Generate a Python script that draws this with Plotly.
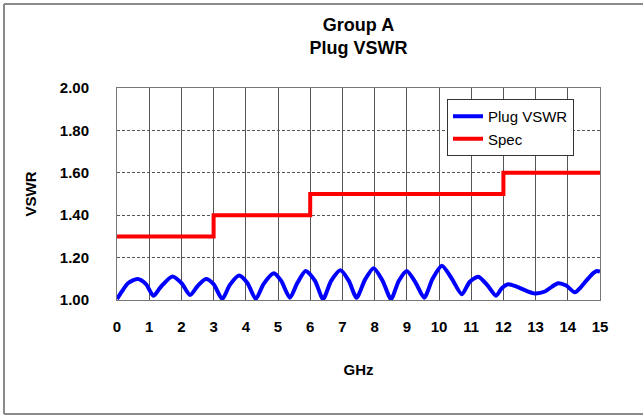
import plotly.graph_objects as go

freq_ghz = [0.00, 0.15, 0.35, 0.64, 0.90, 1.13, 1.35, 1.72, 2.00, 2.27, 2.50, 2.76, 3.00, 3.27,
            3.50, 3.79, 4.05, 4.31, 4.55, 4.87, 5.10, 5.37, 5.60, 5.86, 6.15, 6.40, 6.65, 6.94,
            7.20, 7.44, 7.70, 7.97, 8.25, 8.51, 8.75, 9.00, 9.28, 9.54, 9.80, 10.09, 10.40,
            10.71, 10.95, 11.22, 11.50, 11.77, 11.95, 12.15, 12.41, 12.72, 12.98, 13.29, 13.50,
            13.70, 13.95, 14.22, 14.40, 14.59, 14.80, 14.90, 15.00]
plug_vswr = [1.005, 1.04, 1.08, 1.099, 1.075, 1.02, 1.06, 1.111, 1.08, 1.024, 1.065, 1.099, 1.075, 1.005,
             1.07, 1.115, 1.08, 1.005, 1.075, 1.126, 1.09, 1.011, 1.08, 1.137, 1.09, 1.005, 1.09, 1.14,
             1.09, 1.011, 1.095, 1.15, 1.09, 1.005, 1.09, 1.137, 1.08, 1.011, 1.10, 1.162, 1.10,
             1.027, 1.085, 1.11, 1.07, 1.02, 1.055, 1.074, 1.063, 1.043, 1.031, 1.04, 1.062,
             1.079, 1.068, 1.036, 1.06, 1.094, 1.128, 1.137, 1.134]

# Spec limit (step)
spec_ghz = [0, 3, 6, 12, 15]
spec_vswr = [1.30, 1.40, 1.50, 1.60, 1.60]

y_ticks = [1.0, 1.2, 1.4, 1.6, 1.8, 2.0]
x_ticks = list(range(0, 16))

FONT = "Liberation Sans, Arial, sans-serif"

fig = go.Figure()
fig.add_trace(go.Scatter(x=freq_ghz, y=plug_vswr, mode="lines", name="Plug VSWR",
                         line=dict(color="#0000FF", width=4, shape="spline", smoothing=0.7)))
fig.add_trace(go.Scatter(x=spec_ghz, y=spec_vswr, mode="lines", name="Spec",
                         line=dict(color="#FF0000", width=4, shape="hv")))

L, R, T, B = 117, 600, 88, 300
W, H = 643, 416
pw, ph = R - L, B - T

def px(x):
    return (x - L) / pw

def py(y):
    return (B - y) / ph

frame_line = dict(color="#8a8a8a", width=2)

fig.update_layout(
    width=W, height=H,
    margin=dict(l=L, r=W - R, t=T, b=H - B, pad=0),
    paper_bgcolor="white", plot_bgcolor="white",
    font=dict(family=FONT, color="black"),
    title=dict(text="Group A<br>Plug VSWR", x=0.5, xanchor="center", xref="paper",
               y=1 - 31 / H, yanchor="middle",
               font=dict(size=18, family=FONT, weight="bold", color="black")),
    showlegend=True,
    legend=dict(x=px(447), y=py(99), xanchor="left", yanchor="top",
                bgcolor="white", bordercolor="#333333", borderwidth=1,
                font=dict(size=15, family=FONT, color="black"),
                tracegroupgap=0, itemwidth=30),
    xaxis=dict(range=[0, 15], tickvals=x_ticks, ticktext=[str(v) for v in x_ticks],
               showgrid=True, gridcolor="#555555", gridwidth=1,
               showline=True, linecolor="#777777", linewidth=1, mirror=True,
               ticks="", ticklabelstandoff=13, zeroline=False,
               tickfont=dict(size=15, family=FONT, weight="bold", color="black"),
               title=dict(text="GHz", standoff=30,
                          font=dict(size=15, family=FONT, weight="bold", color="black"))),
    yaxis=dict(range=[1.0, 2.0], tickvals=y_ticks, ticktext=[f"{v:.2f}" for v in y_ticks],
               showgrid=True, gridcolor="#555555", gridwidth=1, griddash="3px,2px",
               showline=True, linecolor="#777777", linewidth=1, mirror=True,
               ticks="", ticklabelstandoff=24, zeroline=False,
               tickfont=dict(size=15, family=FONT, weight="bold", color="black"),
               title=dict(text="VSWR", standoff=19,
                          font=dict(size=15, family=FONT, weight="bold", color="black"))),
    shapes=[
        dict(type="line", xref="paper", yref="paper", x0=px(4), x1=px(700), y0=py(4), y1=py(4),
             line=frame_line, layer="below"),
        dict(type="line", xref="paper", yref="paper", x0=px(4), x1=px(700), y0=py(414), y1=py(414),
             line=frame_line, layer="below"),
        dict(type="line", xref="paper", yref="paper", x0=px(4), x1=px(4), y0=py(4), y1=py(414),
             line=frame_line, layer="below"),
    ],
)

fig.write_html("out.html", config={"displayModeBar": False},
               post_script="document.body.style.margin='0';"
                           "document.body.style.overflow='hidden';"
                           "document.documentElement.style.overflow='hidden';")
